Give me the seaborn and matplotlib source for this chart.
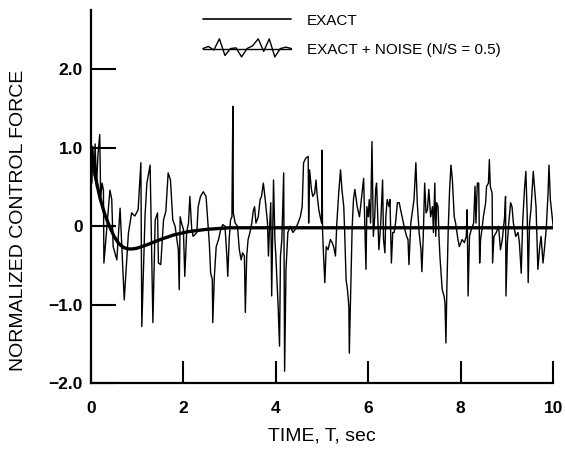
import numpy as np
import pandas as pd
import matplotlib
matplotlib.use("Agg")
import matplotlib.pyplot as plt
import seaborn as sns
from matplotlib.legend_handler import HandlerBase
from matplotlib.lines import Line2D

# ---------------- data ----------------
exact_t = [0.0, 0.05, 0.1, 0.15, 0.2, 0.3, 0.4, 0.5, 0.6, 0.7, 0.8, 0.9, 1.0,
           1.2, 1.5, 1.8, 2.1, 2.5, 3.0, 4.0, 5.0, 6.0, 7.0, 8.0, 9.0, 10.0]
exact_v = [1.0, 0.8, 0.62, 0.48, 0.35, 0.15, 0.0, -0.13, -0.22, -0.27, -0.29, -0.29, -0.28,
           -0.24, -0.17, -0.11, -0.07, -0.04, -0.02, -0.02, -0.02, -0.02, -0.02, -0.02, -0.02, -0.02]

noise_t = [0.00, 0.02, 0.04, 0.07, 0.09, 0.12, 0.15, 0.19, 0.21, 0.24,
           0.27, 0.28, 0.41, 0.45, 0.48, 0.56, 0.63, 0.72, 0.81, 0.88,
           0.95, 1.02, 1.08, 1.10, 1.17, 1.21, 1.28, 1.34, 1.39, 1.44,
           1.46, 1.51, 1.57, 1.62, 1.67, 1.72, 1.77, 1.82, 1.89, 1.91,
           1.93, 1.96, 2.00, 2.03, 2.07, 2.11, 2.14, 2.18, 2.21, 2.29,
           2.32, 2.37, 2.43, 2.49, 2.52, 2.56, 2.59, 2.625, 2.635, 2.67,
           2.71, 2.76, 2.81, 2.85, 2.90, 2.94, 2.96, 2.99, 3.02, 3.05,
           3.07, 3.08, 3.12, 3.17, 3.21, 3.25, 3.28, 3.32, 3.34, 3.37,
           3.40, 3.44, 3.48, 3.51, 3.54, 3.57, 3.62, 3.66, 3.69, 3.73,
           3.77, 3.82, 3.84, 3.86, 3.89, 3.91, 3.95, 3.98, 4.00, 4.05,
           4.08, 4.10, 4.13, 4.17, 4.19, 4.22, 4.26, 4.31, 4.37, 4.42,
           4.48, 4.53, 4.57, 4.60, 4.65, 4.70, 4.71, 4.73, 4.77, 4.80,
           4.84, 4.87, 4.89, 4.93, 4.96, 4.99, 5.00, 5.01, 5.03, 5.06,
           5.09, 5.13, 5.18, 5.22, 5.25, 5.29, 5.32, 5.36, 5.40, 5.43,
           5.47, 5.49, 5.52, 5.55, 5.58, 5.59, 5.62, 5.65, 5.68, 5.71,
           5.76, 5.81, 5.85, 5.90, 5.95, 5.97, 6.00, 6.02, 6.05, 6.08,
           6.11, 6.14, 6.16, 6.18, 6.21, 6.23, 6.27, 6.31, 6.33, 6.36,
           6.38, 6.41, 6.45, 6.47, 6.50, 6.53, 6.56, 6.59, 6.63, 6.67,
           6.70, 6.76, 6.79, 6.83, 6.86, 6.88, 6.92, 6.96, 6.99, 7.03,
           7.06, 7.10, 7.14, 7.16, 7.19, 7.22, 7.25, 7.28, 7.31, 7.35,
           7.39, 7.41, 7.44, 7.46, 7.48, 7.51, 7.53, 7.55, 7.58, 7.60,
           7.64, 7.66, 7.68, 7.70, 7.73, 7.76, 7.79, 7.82, 7.86, 7.89,
           7.94, 7.97, 8.03, 8.08, 8.12, 8.14, 8.16, 8.19, 8.23, 8.28,
           8.31, 8.33, 8.36, 8.39, 8.41, 8.43, 8.46, 8.49, 8.54, 8.56,
           8.60, 8.62, 8.64, 8.68, 8.69, 8.72, 8.77, 8.82, 8.86, 8.90,
           8.95, 8.97, 8.98, 9.01, 9.04, 9.08, 9.11, 9.14, 9.19, 9.24,
           9.27, 9.31, 9.34, 9.38, 9.41, 9.44, 9.46, 9.49, 9.52, 9.57,
           9.60, 9.63, 9.67, 9.71, 9.74, 9.78, 9.81, 9.85, 9.89, 9.91,
           9.94, 9.98, 10.00]
noise_v = [0.95, 0.55, 1.02, 0.65, 1.05, 0.50, 0.90, 1.17, 0.35, 0.55,
           0.46, -0.47, 0.46, 0.34, -0.26, -0.43, 0.23, -0.94, -0.09, 0.17,
           0.13, 0.21, 0.81, -1.28, 0.13, 0.55, 0.78, -1.23, 0.08, 0.17,
           -0.47, -0.49, 0.08, 0.19, 0.68, 0.59, 0.08, 0.00, -0.30, -0.81,
           0.12, 0.04, -0.04, -0.64, -0.08, 0.04, 0.38, -0.04, -0.13, -0.08,
           0.25, 0.38, 0.44, 0.38, 0.12, -0.21, -0.60, -0.68, -1.23, -0.64,
           -0.26, -0.17, -0.04, 0.02, 0.00, -0.38, -0.64, -0.17, 0.08, 0.12,
           1.53, 0.17, 0.04, 0.00, -0.30, -0.43, -0.34, -0.38, -1.10, -0.38,
           -0.17, -0.08, 0.04, 0.19, 0.25, 0.04, 0.12, 0.34, 0.38, 0.55,
           0.34, 0.04, -0.38, -0.08, 0.30, -0.89, 0.59, -0.17, -0.38, -1.02,
           -1.53, -0.38, -0.17, 0.68, -1.85, -0.55, -0.08, 0.00, -0.08, -0.04,
           0.04, 0.12, 0.25, 0.81, 0.87, 0.89, 0.04, 0.72, 0.47, 0.38,
           0.42, 0.59, 0.42, 0.21, 0.12, 0.04, 0.97, -0.04, -0.34, -0.72,
           -0.26, -0.30, -0.17, -0.21, -0.26, -0.38, 0.04, 0.42, 0.72, 0.47,
           0.25, -0.08, -0.68, -0.81, -1.02, -1.62, -0.81, -0.04, 0.34, 0.47,
           0.25, 0.12, 0.34, 0.61, -0.55, 0.25, 0.12, 0.34, 0.04, 1.08,
           -0.13, 0.12, 0.47, 0.55, 0.04, -0.30, 0.04, 0.59, -0.17, -0.34,
           0.12, 0.34, 0.25, 0.34, -0.47, -0.08, -0.08, 0.04, 0.30, 0.30,
           0.21, 0.04, -0.04, -0.13, -0.17, -0.49, 0.04, 0.21, 0.34, 0.81,
           0.30, -0.08, -0.30, -0.58, -0.13, 0.55, 0.17, 0.21, 0.47, 0.12,
           0.25, -0.08, 0.55, -0.13, 0.30, 0.25, -0.13, -0.38, -0.64, -0.81,
           -0.89, -0.98, -1.49, -0.81, -0.04, 0.47, 0.78, 0.59, 0.12, 0.04,
           -0.17, -0.26, -0.17, -0.21, -0.13, 0.21, -0.89, -0.13, -0.04, 0.04,
           0.51, 0.04, 0.55, 0.55, -0.47, -0.17, -0.04, 0.12, 0.30, 0.51,
           0.55, 0.85, 0.51, 0.42, -0.47, -0.13, -0.08, 0.00, -0.30, -0.17,
           0.12, 0.38, -0.89, -0.21, 0.04, 0.30, 0.25, 0.04, -0.13, -0.08,
           -0.21, -0.60, 0.04, 0.47, 0.70, 0.12, -0.72, 0.04, 0.21, 0.70,
           0.47, 0.25, -0.55, -0.26, -0.13, -0.47, -0.30, -0.04, 0.42, 0.78,
           0.34, 0.12, 0.00]

x_ticks = [0, 2, 4, 6, 8, 10]
x_tick_labels = ["0", "2", "4", "6", "8", "10"]
y_ticks = [-2.0, -1.0, 0.0, 1.0, 2.0]
y_tick_labels = ["\u22122.0", "\u22121.0", "0", "1.0", "2.0"]

series_names = ["EXACT", "EXACT + NOISE (N/S = 0.5)"]

# ---------------- style ----------------
sns.set_theme(style="white")
plt.rcParams["font.family"] = ["Liberation Sans", "DejaVu Sans"]
plt.rcParams["axes.unicode_minus"] = True

fig = plt.figure(figsize=(5.65, 4.5), dpi=100)
ax = fig.add_axes([0.161, 0.149, 0.818, 0.829])

df_exact = pd.DataFrame({"t": exact_t, "v": exact_v})
df_noise = pd.DataFrame({"t": noise_t, "v": noise_v})

sns.lineplot(data=df_noise, x="t", y="v", ax=ax, color="black", lw=1.0,
             estimator=None, sort=False, label=series_names[1])
sns.lineplot(data=df_exact, x="t", y="v", ax=ax, color="black", lw=2.4,
             estimator=None, sort=False, label=series_names[0])

ax.set_xlim(0, 10)
ax.set_ylim(-2.0, 2.76)

for side in ["top", "right"]:
    ax.spines[side].set_visible(False)
for side in ["left", "bottom"]:
    ax.spines[side].set_color("black")
    ax.spines[side].set_linewidth(1.6)

ax.set_xticks(x_ticks)
ax.set_xticklabels(x_tick_labels, fontweight="bold", fontsize=12.5)
ax.set_yticks(y_ticks)
ax.set_yticklabels(y_tick_labels, fontweight="bold", fontsize=12.5)
ax.tick_params(axis="x", direction="in", length=16, width=1.5, pad=13,
               colors="black", bottom=True)
ax.tick_params(axis="y", direction="in", length=18, width=1.5, pad=6,
               colors="black", left=True)

ax.set_xlabel("TIME, T, sec", fontsize=14, color="black", labelpad=8)
ax.set_ylabel("NORMALIZED CONTROL FORCE", fontsize=14, color="black")
ax.yaxis.set_label_coords(-0.138, 0.437)


class WiggleHandler(HandlerBase):
    def create_artists(self, legend, orig_handle, xdescent, ydescent,
                       width, height, fontsize, trans):
        pattern = [0.0, 0.15, -0.1, 0.7, -0.5, 0.0, 0.05, -0.6, 0.0, 0.2,
                   0.7, -0.2, 0.7, -0.6, 0.0, 0.1, 0.0]
        xs = -xdescent + width * np.linspace(0, 1, len(pattern))
        ys = -ydescent + height / 2 + height * 1.3 * np.array(pattern)
        wig = Line2D(xs, ys, color="black", lw=1.0)
        wig.set_transform(trans)
        base = Line2D([-xdescent, -xdescent + width],
                      [-ydescent + height / 2] * 2, color="black", lw=1.0)
        base.set_transform(trans)
        return [base, wig]


handles, labels = ax.get_legend_handles_labels()
hmap = dict(zip(labels, handles))
h_exact = Line2D([], [], color="black", lw=1.2)
h_noise = hmap[series_names[1]]
leg = ax.legend([h_exact, h_noise], series_names, loc="upper left",
                bbox_to_anchor=(0.242, 0.99), frameon=False, fontsize=11,
                handlelength=5.8, handletextpad=1.0, labelspacing=1.0,
                borderpad=0.0, borderaxespad=0.0,
                handler_map={h_noise: WiggleHandler()})
for txt in leg.get_texts():
    txt.set_color("black")

fig.savefig("out.png", dpi=100, facecolor="white")
